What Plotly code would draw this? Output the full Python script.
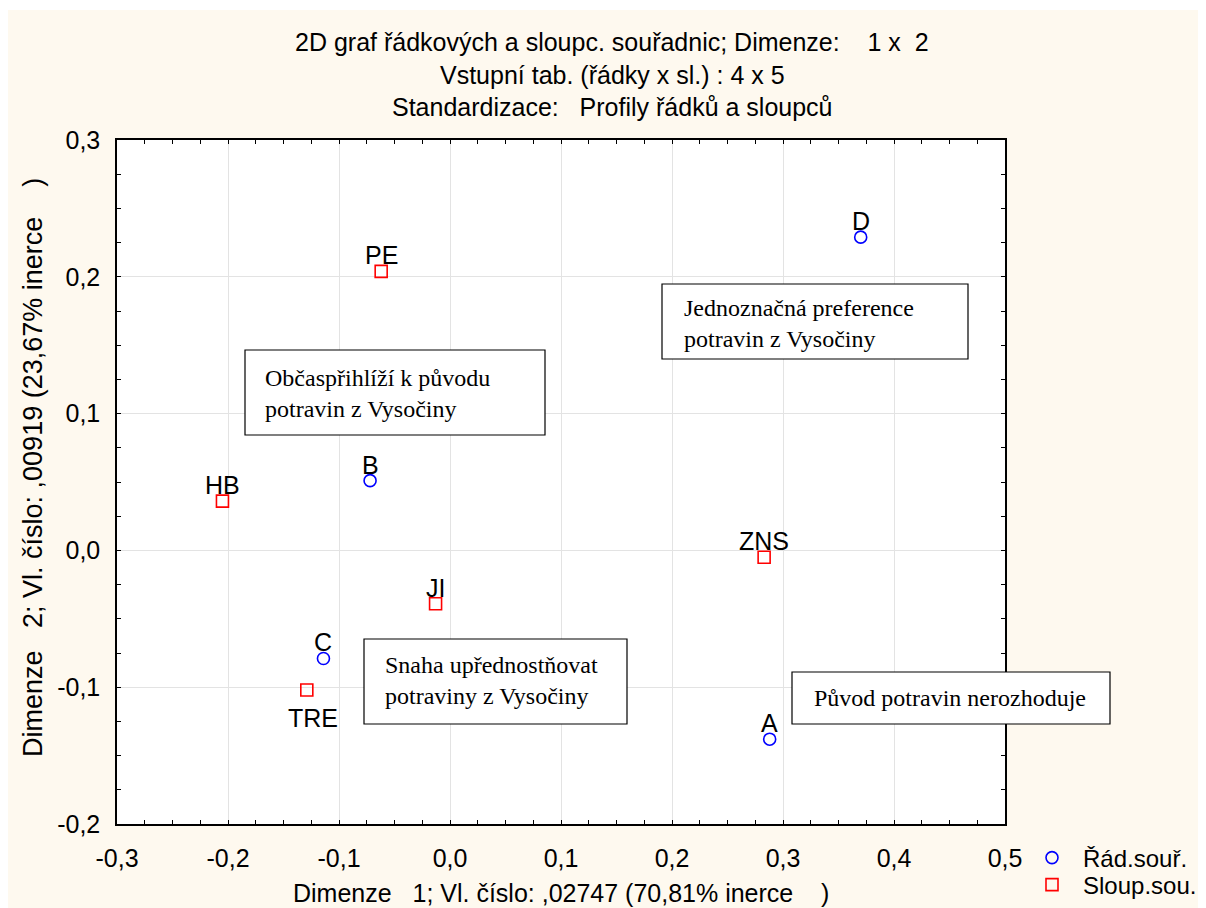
import plotly.graph_objects as go

# ---- data ----
row_labels = ["A", "B", "C", "D"]
row_x = [0.288, -0.072, -0.114, 0.370]
row_y = [-0.138, 0.051, -0.079, 0.229]

col_labels = ["HB", "TRE", "JI", "PE", "ZNS"]
col_x = [-0.205, -0.129, -0.013, -0.062, 0.283]
col_y = [0.036, -0.102, -0.039, 0.204, -0.005]
col_label_side = ["top", "bottom", "top", "top", "top"]

x_tickvals = [-0.3, -0.2, -0.1, 0.0, 0.1, 0.2, 0.3, 0.4, 0.5]
x_ticktext = ["-0,3", "-0,2", "-0,1", "0,0", "0,1", "0,2", "0,3", "0,4", "0,5"]
y_tickvals = [-0.2, -0.1, 0.0, 0.1, 0.2, 0.3]
y_ticktext = ["-0,2", "-0,1", "0,0", "0,1", "0,2", "0,3"]

title_lines = [
    "2D graf řádkových a sloupc. souřadnic; Dimenze:\u00a0\u00a0\u00a0\u00a01 x\u00a0\u00a02",
    "Vstupní tab. (řádky x sl.) : 4 x 5",
    "Standardizace:\u00a0\u00a0\u00a0Profily řádků a sloupců",
]
x_title = "Dimenze\u00a0\u00a0\u00a01; Vl. číslo: ,02747 (70,81% inerce\u00a0\u00a0\u00a0\u00a0)"
y_title = "Dimenze\u00a0\u00a0\u00a02; Vl. číslo: ,00919 (23,67% inerce\u00a0\u00a0\u00a0\u00a0)"

box_texts = [
    "Občaspřihlíží k původu<br>potravin z Vysočiny",
    "Jednoznačná preference<br>potravin z Vysočiny",
    "Snaha upřednostňovat<br>potraviny z Vysočiny",
    "Původ potravin nerozhoduje",
]

# ---- layout geometry ----
# reference screen pixels of the plot area; the page body adds an 8px offset
OFF = 8
W, H = 1206 - OFF, 908 - OFF
L, R, T, B = 117, 1005, 140, 824


def px(x):
    return (x - L) / (R - L)


def py(y):
    return (B - y) / (B - T)


SANS = "Arial, Liberation Sans, sans-serif"
SERIF = "Times New Roman, Liberation Serif, serif"
CREAM = "#FEF9EF"
FS = 25

fig = go.Figure()
fig.add_trace(go.Scatter(
    x=row_x, y=row_y, mode="markers", name="Řád.souř.", legend="legend",
    marker=dict(symbol="circle-open", size=12, color="#0000FF", line=dict(width=1.6)),
    cliponaxis=False,
))
fig.add_trace(go.Scatter(
    x=col_x, y=col_y, mode="markers", name="Sloup.sou.", legend="legend2",
    marker=dict(symbol="square-open", size=12, color="#FF0000", line=dict(width=1.6)),
    cliponaxis=False,
))

annotations = []
for lab, xv, yv in zip(row_labels, row_x, row_y):
    annotations.append(dict(x=xv, y=yv, xref="x", yref="y", text=lab, showarrow=False,
                            yanchor="bottom", yshift=0, font=dict(family=SANS, size=FS, color="black")))
for lab, xv, yv, side in zip(col_labels, col_x, col_y, col_label_side):
    if side == "top":
        annotations.append(dict(x=xv, y=yv, xref="x", yref="y", text=lab, showarrow=False,
                                yanchor="bottom", yshift=0, font=dict(family=SANS, size=FS, color="black")))
    else:
        annotations.append(dict(x=xv, y=yv, xref="x", yref="y", text=lab, showarrow=False,
                                yanchor="top", yshift=-12, xshift=6, font=dict(family=SANS, size=FS, color="black")))

# titles
for line, ypix in zip(title_lines, [42, 75, 107]):
    annotations.append(dict(x=px(612), y=py(ypix), xref="paper", yref="paper", text=line,
                            showarrow=False, xanchor="center", yanchor="middle",
                            font=dict(family=SANS, size=FS, color="black")))
annotations.append(dict(x=px(561), y=py(893), xref="paper", yref="paper", text=x_title,
                        showarrow=False, xanchor="center", yanchor="middle",
                        font=dict(family=SANS, size=FS, color="black")))
annotations.append(dict(x=px(33), y=py(468), xref="paper", yref="paper", text=y_title,
                        showarrow=False, xanchor="center", yanchor="middle", textangle=-90,
                        font=dict(family=SANS, size=27, color="black")))

# boxes
box_rects = [(245, 350, 545, 435), (662, 284, 968, 359), (364, 639, 627, 724), (792, 672, 1110, 724)]
box_text_pos = [(263, 393), (682, 323), (383, 680), (812, 698)]
shapes = [
    dict(type="rect", xref="paper", yref="paper", x0=px(7), x1=px(1210), y0=py(912), y1=py(10),
         fillcolor=CREAM, line=dict(width=0), layer="below"),
    dict(type="rect", xref="paper", yref="paper", x0=0, x1=1, y0=0, y1=1,
         fillcolor="white", line=dict(width=0), layer="below"),
]
for (x0, y0, x1, y1) in box_rects:
    shapes.append(dict(type="rect", xref="paper", yref="paper", x0=px(x0), x1=px(x1), y0=py(y1), y1=py(y0),
                       fillcolor="white", line=dict(color="black", width=1.2), layer="above"))
for txt, (tx, ty) in zip(box_texts, box_text_pos):
    annotations.append(dict(x=px(tx), y=py(ty), xref="paper", yref="paper", text=txt, showarrow=False,
                            xanchor="left", yanchor="middle", align="left",
                            font=dict(family=SERIF, size=24, color="black")))

axis_common = dict(
    showline=True, linecolor="black", linewidth=1.5, mirror="ticks",
    ticks="inside", ticklen=4, tickcolor="black", tickwidth=1,
    showgrid=True, gridcolor="#E3E3E3", gridwidth=1, zeroline=False,
    tickfont=dict(family=SANS, size=FS, color="black"),
)

legend_common = dict(xanchor="left", yanchor="middle", itemwidth=52,
                     font=dict(family=SANS, size=24, color="black"),
                     bgcolor="rgba(0,0,0,0)", borderwidth=0)

fig.update_layout(
    width=W, height=H,
    margin=dict(l=L - OFF, r=W - (R - OFF), t=T - OFF, b=H - (B - OFF), pad=0, autoexpand=False),
    paper_bgcolor="white", plot_bgcolor="white",
    showlegend=True,
    legend=dict(x=px(1021), y=py(858), **legend_common),
    legend2=dict(x=px(1021), y=py(885), **legend_common),
    xaxis=dict(range=[-0.3, 0.5], tickvals=x_tickvals, ticktext=x_ticktext,
               minor=dict(dtick=0.025, tick0=0, ticks="inside", ticklen=4, tickcolor="black", showgrid=False),
               ticklabelstandoff=11, **axis_common),
    yaxis=dict(range=[-0.2, 0.3], tickvals=y_tickvals, ticktext=y_ticktext,
               minor=dict(dtick=0.025, tick0=0, ticks="inside", ticklen=4, tickcolor="black", showgrid=False),
               ticklabelstandoff=10, **axis_common),
    annotations=annotations,
    shapes=shapes,
)

fig.write_html("out.html")
